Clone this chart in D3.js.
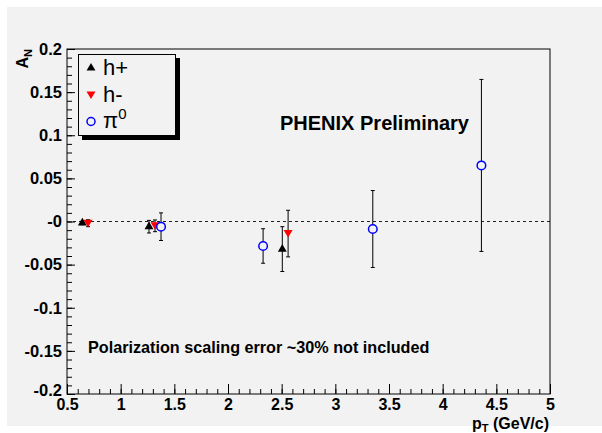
<!DOCTYPE html>
<html>
<head>
<meta charset="utf-8">
<script src="https://d3js.org/d3.v7.min.js"></script>
<style>
  body { margin: 0; background: #ffffff; }
  text { font-family: "Liberation Sans", Arial, Helvetica, sans-serif; }
</style>
</head>
<body>
<svg id="chart"></svg>
<script>
var width = 602;
var height = 433;

// A_N vs pT
var hplusX = [0.643, 1.264, 2.506];
var hplusY = [-0.0017, -0.006, -0.032];
var hplusErr = [0.002, 0.0073, 0.026];

var hminusX = [0.696, 1.32, 2.56];
var hminusY = [-0.002, -0.005, -0.014];
var hminusErr = [0.004, 0.0068, 0.027];

var pi0X = [1.376, 2.327, 3.349, 4.361];
var pi0Y = [-0.006, -0.0284, -0.0087, 0.065];
var pi0Err = [0.016, 0.02, 0.0446, 0.0997];

var xTicks = [0.5, 1, 1.5, 2, 2.5, 3, 3.5, 4, 4.5, 5];
var xTickLabels = ["0.5", "1", "1.5", "2", "2.5", "3", "3.5", "4", "4.5", "5"];
var yTicks = [0.2, 0.15, 0.1, 0.05, 0, -0.05, -0.1, -0.15, -0.2];
var yTickLabels = ["0.2", "0.15", "0.1", "0.05", "-0", "-0.05", "-0.1", "-0.15", "-0.2"];

var frame = { left: 67, right: 550, top: 49, bottom: 394 };

let svg = d3.select("#chart").attr("width", width).attr("height", height);

// canvas background (light grey pad with thin white edge)
svg.append("rect").attr("width", width).attr("height", height).attr("fill", "#ffffff");
svg.append("rect").attr("x", 7).attr("y", 7)
  .attr("width", width - 7).attr("height", height - 14)
  .attr("fill", "#f2f2f2");

var x = d3.scaleLinear().domain([0.5, 5]).range([frame.left, frame.right]);
var y = d3.scaleLinear().domain([-0.2, 0.2]).range([frame.bottom, frame.top]);

// minor ticks every 0.1 on x and 0.01 on y
var xMinor = d3.range(0.5, 5.0001, 0.1).map(v => +v.toFixed(2));
var yMinor = d3.range(-0.2, 0.20001, 0.01).map(v => +v.toFixed(3));

svg.append("g")
  .attr("transform", "translate(0," + frame.bottom + ")")
  .call(d3.axisBottom(x).tickValues(xMinor).tickSize(-5).tickFormat(""))
  .call(g => g.select(".domain").remove());

svg.append("g")
  .attr("transform", "translate(" + frame.left + ",0)")
  .call(d3.axisLeft(y).tickValues(yMinor).tickSize(-5).tickFormat(""))
  .call(g => g.select(".domain").remove());

// major ticks with labels
var xAxis = svg.append("g")
  .attr("transform", "translate(0," + frame.bottom + ")")
  .call(d3.axisBottom(x).tickValues(xTicks).tickSize(-10).tickPadding(5)
    .tickFormat((d, i) => xTickLabels[i]));
xAxis.select(".domain").remove();
xAxis.selectAll("text").attr("font-size", 16).attr("font-weight", "bold")
  .attr("font-family", "Liberation Sans, Arial, sans-serif").attr("fill", "#000");

var yAxis = svg.append("g")
  .attr("transform", "translate(" + frame.left + ",0)")
  .call(d3.axisLeft(y).tickValues(yTicks).tickSize(-8).tickPadding(5)
    .tickFormat((d, i) => yTickLabels[i]));
yAxis.select(".domain").remove();
yAxis.selectAll("text").attr("font-size", 16.5).attr("font-weight", "bold")
  .attr("font-family", "Liberation Sans, Arial, sans-serif").attr("fill", "#000")
  .attr("dy", (d, i) => i === yTicks.length - 1 ? "0.1em" : "0.32em");

svg.selectAll(".tick line").attr("stroke", "#000");

// zero line
svg.append("line")
  .attr("x1", x(0.5)).attr("x2", x(5))
  .attr("y1", y(0)).attr("y2", y(0))
  .attr("stroke", "#222").attr("stroke-dasharray", "3,3");

// frame
svg.append("rect")
  .attr("x", frame.left).attr("y", frame.top)
  .attr("width", frame.right - frame.left).attr("height", frame.bottom - frame.top)
  .attr("fill", "none").attr("stroke", "#000");

// helper to draw error bars for one series
function drawErrors(xs, ys, errs) {
  var g = svg.append("g").attr("stroke", "#000").attr("stroke-width", 1);
  xs.forEach(function (xv, i) {
    var px = x(xv);
    g.append("line").attr("x1", px).attr("x2", px)
      .attr("y1", y(ys[i] + errs[i])).attr("y2", y(ys[i] - errs[i]));
    [ys[i] + errs[i], ys[i] - errs[i]].forEach(function (v) {
      g.append("line").attr("x1", px - 2).attr("x2", px + 2)
        .attr("y1", y(v)).attr("y2", y(v));
    });
  });
}

var triUp = d3.symbol().type(d3.symbolTriangle).size(34);
var triDown = "M-4.5,-3.5L4.5,-3.5L0,4Z";

drawErrors(hplusX, hplusY, hplusErr);
drawErrors(hminusX, hminusY, hminusErr);
drawErrors(pi0X, pi0Y, pi0Err);

svg.append("g").selectAll("path")
  .data(hplusX)
  .enter().append("path")
  .attr("d", triUp)
  .attr("transform", (d, i) => "translate(" + x(d) + "," + y(hplusY[i]) + ")")
  .attr("fill", "#000");

svg.append("g").selectAll("path")
  .data(hminusX)
  .enter().append("path")
  .attr("d", triDown)
  .attr("transform", (d, i) => "translate(" + x(d) + "," + y(hminusY[i]) + ")")
  .attr("fill", "#ff0000");

svg.append("g").selectAll("circle")
  .data(pi0X)
  .enter().append("circle")
  .attr("cx", d => x(d))
  .attr("cy", (d, i) => y(pi0Y[i]))
  .attr("r", 4.3)
  .attr("fill", "#f2f2f2")
  .attr("stroke", "#0000ff")
  .attr("stroke-width", 1.5);

// Legend box with shadow
svg.append("rect").attr("x", 82).attr("y", 58).attr("width", 98).attr("height", 82).attr("fill", "#000");
svg.append("rect").attr("x", 78.5).attr("y", 54.5).attr("width", 97).attr("height", 81)
  .attr("fill", "#f2f2f2").attr("stroke", "#000");

svg.append("path").attr("d", triUp).attr("transform", "translate(91,68)").attr("fill", "#000");
svg.append("path").attr("d", triDown).attr("transform", "translate(91,95)").attr("fill", "#ff0000");
svg.append("circle").attr("cx", 91).attr("cy", 121.5).attr("r", 4)
  .attr("fill", "none").attr("stroke", "#0000ff").attr("stroke-width", 1.5);

svg.append("text").attr("x", 103).attr("y", 75).attr("font-size", 22).text("h+");
svg.append("text").attr("x", 103).attr("y", 101.5).attr("font-size", 22).text("h-");
var piText = svg.append("text").attr("x", 103).attr("y", 128).attr("font-size", 22);
piText.append("tspan").text("\u03c0");
piText.append("tspan").attr("font-size", 15).attr("dy", -9).text("0");

// annotations
svg.append("text").attr("x", 280).attr("y", 130)
  .attr("font-size", 20).attr("font-weight", "bold").text("PHENIX Preliminary");
svg.append("text").attr("x", 88).attr("y", 353)
  .attr("font-size", 16.2).attr("font-weight", "bold")
  .text("Polarization scaling error ~30% not included");

// axis titles
var xTitle = svg.append("text").attr("x", frame.right - 1).attr("y", 429)
  .attr("text-anchor", "end").attr("font-size", 16).attr("font-weight", "bold");
xTitle.append("tspan").text("p");
xTitle.append("tspan").attr("font-size", 11).attr("dy", 3).text("T");
xTitle.append("tspan").attr("dy", -3).text(" (GeV/c)");

var yTitle = svg.append("text")
  .attr("transform", "translate(28," + frame.top + ") rotate(-90)")
  .attr("text-anchor", "end").attr("font-size", 16).attr("font-weight", "bold");
yTitle.append("tspan").text("A");
yTitle.append("tspan").attr("font-size", 11).attr("dy", 4).text("N");
</script>
</body>
</html>
